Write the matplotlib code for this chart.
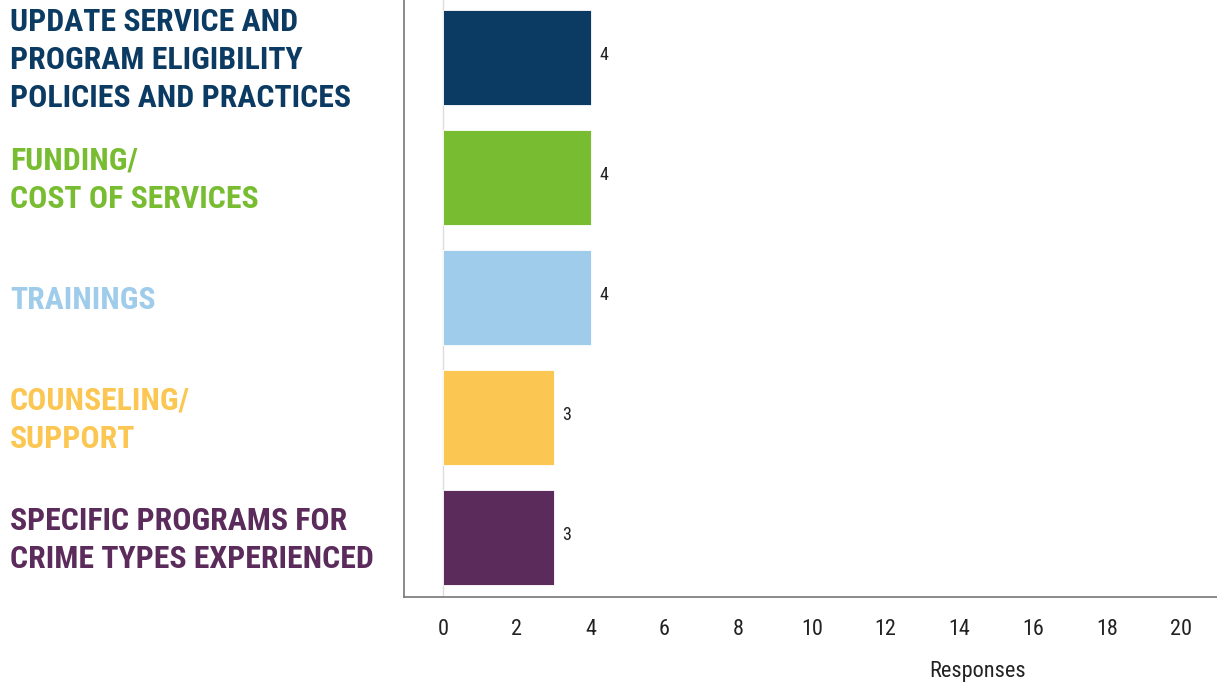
import matplotlib
matplotlib.use('Agg')
import matplotlib.pyplot as plt
from matplotlib import font_manager
from matplotlib.transforms import blended_transform_factory

# data
categories = ['UPDATE SERVICE AND\nPROGRAM ELIGIBILITY\nPOLICIES AND PRACTICES',
              'FUNDING/\nCOST OF SERVICES',
              'TRAININGS',
              'COUNSELING/\nSUPPORT',
              'SPECIFIC PROGRAMS FOR\nCRIME TYPES EXPERIENCED']
responses = [4, 4, 4, 3, 3]
colors = ['#0b3a62', '#78bc31', '#9fcceb', '#fbc752', '#5b2b5b']
xticks = [0, 2, 4, 6, 8, 10, 12, 14, 16, 18, 20]

names = {f.name for f in font_manager.fontManager.ttflist}
family = 'Roboto Condensed' if 'Roboto Condensed' in names else 'Roboto'
plt.rcParams['font.family'] = [family, 'DejaVu Sans']

W, H = 1217, 683
fig = plt.figure(figsize=(W / 100, H / 100), dpi=100)
ax = fig.add_axes([404 / W, 1 - 597 / H, (W - 404) / W, 597 / H])

pos = list(range(len(categories)))
ax.barh(pos, responses, height=0.79, color=colors, edgecolor='white', linewidth=0.6)
ax.axvline(0, color='#dddddd', linewidth=1, zorder=0)

for p, v in zip(pos, responses):
    ax.text(v + 0.24, p - 0.02, str(v), va='center', ha='left', fontsize=13, color='#222222')

ax.set_xlim(-1.057, 20.98)
ax.set_ylim(4.496, -0.479)
ax.set_xticks(xticks)
ax.set_xticklabels([str(t) for t in xticks], fontsize=16, color='#222222')
ax.tick_params(axis='x', length=0, pad=16)
ax.set_yticks([])
for s in ['top', 'right']:
    ax.spines[s].set_visible(False)
for s in ['left', 'bottom']:
    ax.spines[s].set_color('#777777')
    ax.spines[s].set_linewidth(1.2)

ax.set_xlabel('Responses', fontsize=16, color='#222222')
ax.xaxis.set_label_coords((978 - 404) / (W - 404), -0.108)

tr = blended_transform_factory(fig.transFigure, ax.transData)
for p, lab, c in zip(pos, categories, colors):
    ax.text(10 / W, p + 0.02, lab, transform=tr, ha='left', va='center', color=c,
            fontsize=22.9, fontweight='bold', linespacing=1.34, clip_on=False)

fig.savefig('out.png', dpi=100)
